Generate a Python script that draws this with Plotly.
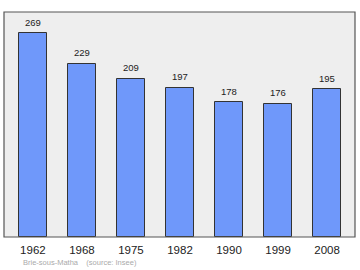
import plotly.graph_objects as go

years = ["1962", "1968", "1975", "1982", "1990", "1999", "2008"]
population = [269, 229, 209, 197, 178, 176, 195]
source_text = "Brie-sous-Matha    (source: Insee)"

fig = go.Figure()
fig.add_trace(go.Bar(
    x=years, y=population, width=0.57,
    marker=dict(color="#6f98fa", line=dict(color="#333333", width=1)),
    hoverinfo="skip",
))

for i, v in enumerate(population):
    fig.add_annotation(x=i, y=v, text=str(v), showarrow=False,
                       yshift=11, font=dict(size=9.5, color="#222222", family="Liberation Sans"))

fig.add_annotation(xref="paper", yref="paper", x=0, y=0, xanchor="left", yanchor="middle",
                   xshift=17, yshift=-25, text=source_text, showarrow=False,
                   font=dict(size=7.5, color="#aaaaaa", family="Liberation Sans"))

fig.add_shape(type="rect", xref="paper", yref="paper", x0=0, y0=0, x1=1, y1=1,
              line=dict(color="#555555", width=1.2), fillcolor="rgba(0,0,0,0)", layer="above")

fig.update_layout(
    width=360, height=270,
    margin=dict(l=4, r=5, t=12, b=33),
    paper_bgcolor="white", plot_bgcolor="#eeeeee",
    showlegend=False,
    xaxis=dict(type="category", range=[-0.59, 6.57], showgrid=False, zeroline=False,
               tickfont=dict(size=11.5, color="#222222", family="Liberation Sans"),
               ticks="", ticklabelstandoff=4, fixedrange=True),
    yaxis=dict(range=[0, 297], showgrid=False, zeroline=False, showticklabels=False,
               ticks="", fixedrange=True),
    bargap=0,
)

fig.write_html("out.html", config={"displayModeBar": False})
